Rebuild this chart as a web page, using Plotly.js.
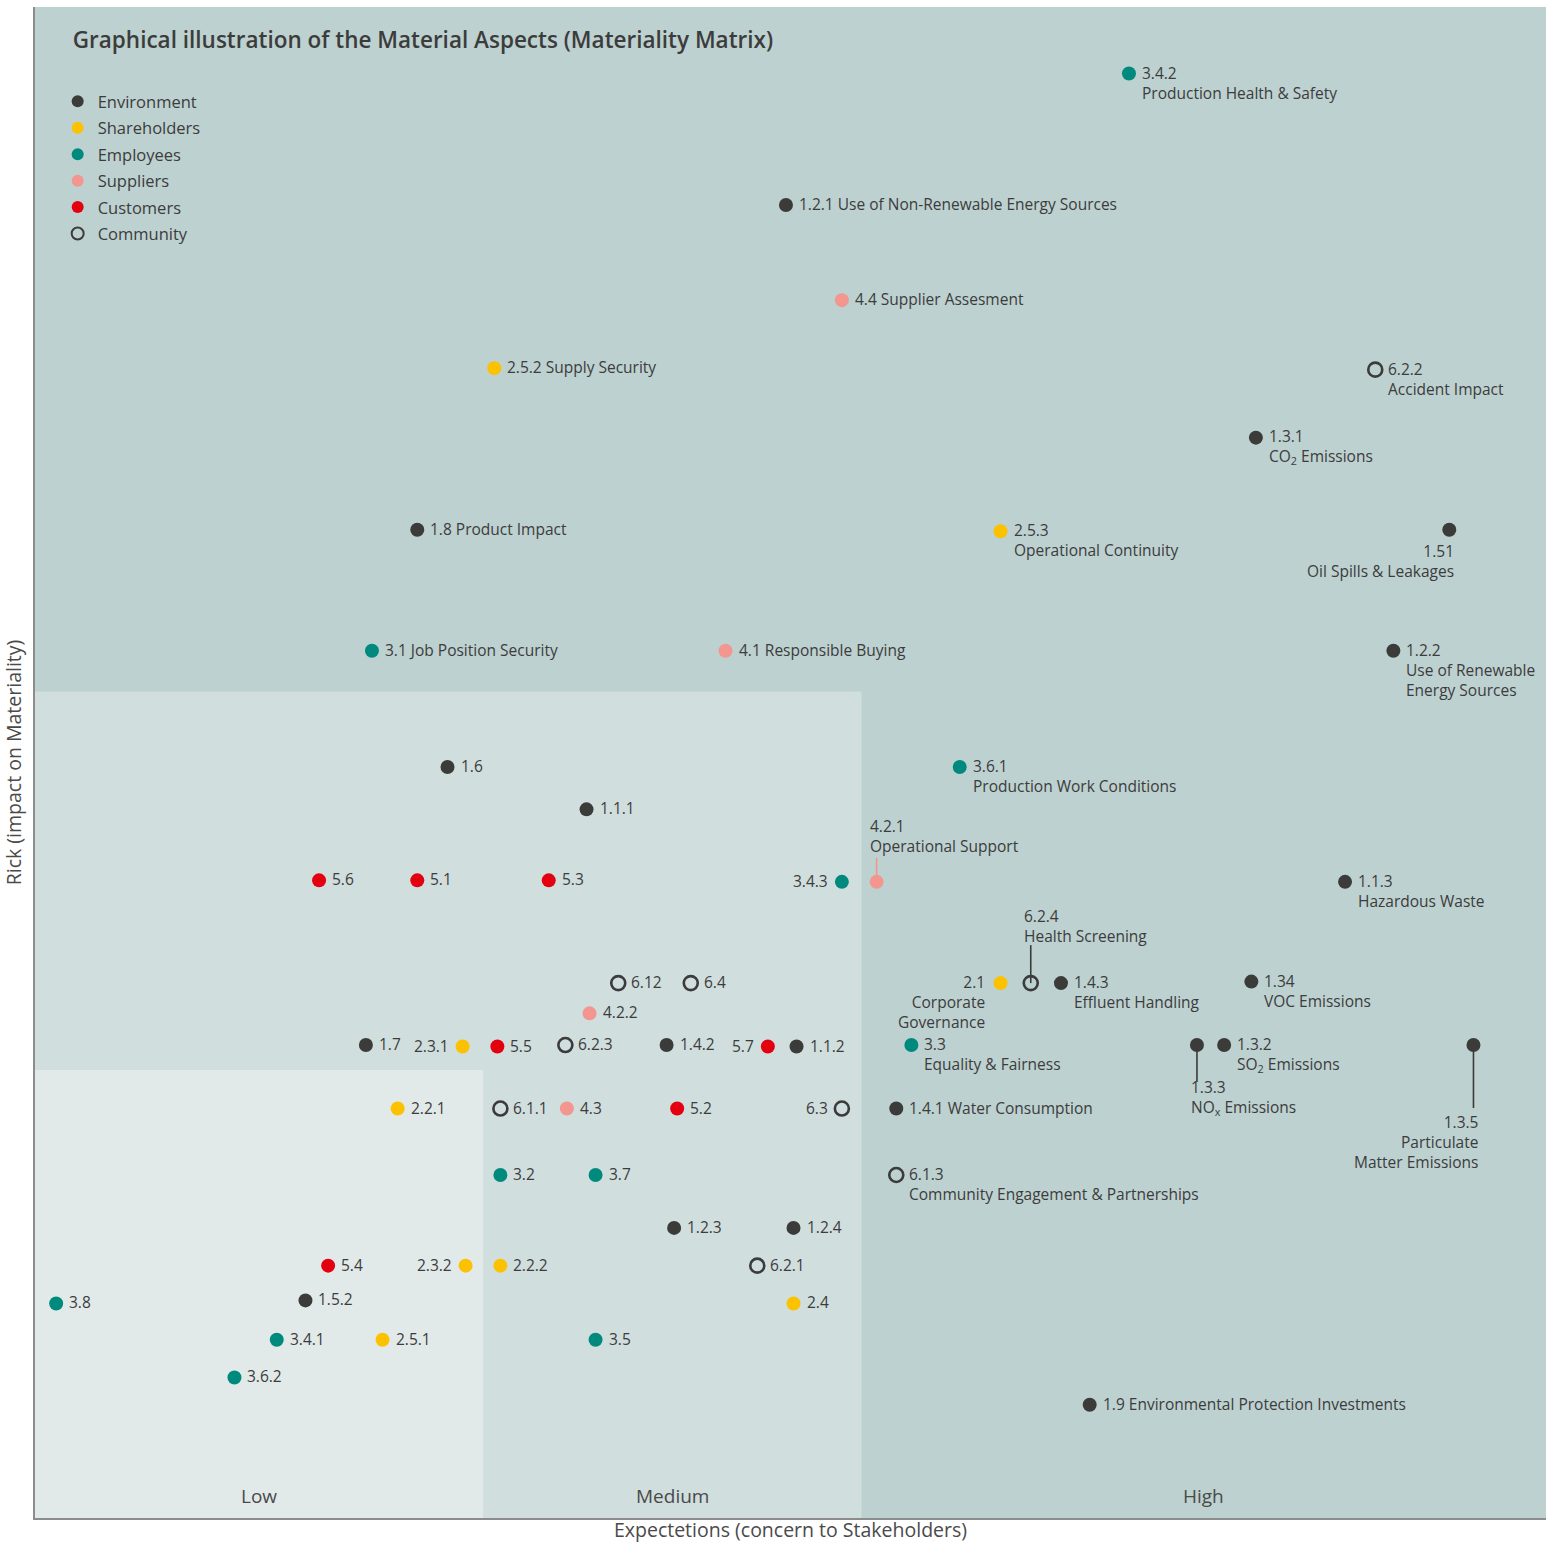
<!DOCTYPE html>
<html><head><meta charset="utf-8">
<script src="https://cdn.plot.ly/plotly-3.0.1.min.js"></script>
<style>html,body{margin:0;padding:0;background:#fff}#chart{width:1560px;height:1543px}</style>
</head><body><div id="chart"></div>
<script>
// ---------- DATA (scores on a 0-100 scale) ----------
const categories = ['Environment','Shareholders','Employees','Suppliers','Customers','Community'];

const envLabels = ['1.2.1 Use of Non-Renewable Energy Sources','1.3.1<br>CO<sub>2</sub> Emissions','1.51<br>Oil Spills & Leakages','1.8 Product Impact','1.2.2<br>Use of Renewable<br>Energy Sources','1.6','1.1.1','1.1.3<br>Hazardous Waste','1.4.3<br>Effluent Handling','1.34<br>VOC Emissions','1.7','1.4.2','1.1.2','1.3.3<br>NO<sub>x</sub> Emissions','1.3.2<br>SO<sub>2</sub> Emissions','1.3.5<br>Particulate<br>Matter Emissions','1.4.1 Water Consumption','1.2.3','1.2.4','1.5.2','1.9 Environmental Protection Investments'];
const envX = [49.7, 80.8, 93.6, 25.3, 89.9, 27.3, 36.5, 86.7, 67.9, 80.5, 21.9, 41.8, 50.4, 76.9, 78.7, 95.2, 57.0, 42.3, 50.2, 17.9, 69.8];
const envY = [86.9, 71.5, 65.4, 65.4, 57.4, 49.7, 46.9, 42.1, 35.4, 35.5, 31.3, 31.3, 31.2, 31.3, 31.3, 31.3, 27.1, 19.2, 19.2, 14.4, 7.5];

const shLabels = ['2.5.2 Supply Security','2.5.3<br>Operational Continuity','2.1<br>Corporate<br>Governance','2.3.1','2.2.1','2.3.2','2.2.2','2.4','2.5.1'];
const shX = [30.4, 63.9, 63.9, 28.3, 24.0, 28.5, 30.8, 50.2, 23.0];
const shY = [76.1, 65.3, 35.4, 31.2, 27.1, 16.7, 16.7, 14.2, 11.8];

const empLabels = ['3.4.2<br>Production Health & Safety','3.1 Job Position Security','3.6.1<br>Production Work Conditions','3.4.3','3.3<br>Equality & Fairness','3.2','3.7','3.8','3.4.1','3.5','3.6.2'];
const empX = [72.4, 22.3, 61.2, 53.4, 58.0, 30.8, 37.1, 1.4, 16.0, 37.1, 13.2];
const empY = [95.6, 57.4, 49.7, 42.1, 31.3, 22.7, 22.7, 14.2, 11.8, 11.8, 9.3];

const supLabels = ['4.4 Supplier Assesment','4.1 Responsible Buying','4.2.1<br>Operational Support','4.2.2','4.3'];
const supX = [53.4, 45.7, 55.7, 36.7, 35.2];
const supY = [80.6, 57.4, 42.1, 33.4, 27.1];

const cusLabels = ['5.6','5.1','5.3','5.5','5.7','5.2','5.4'];
const cusX = [18.8, 25.3, 34.0, 30.6, 48.5, 42.5, 19.4];
const cusY = [42.2, 42.2, 42.2, 31.2, 31.2, 27.1, 16.7];

const comLabels = ['6.2.2<br>Accident Impact','6.2.4<br>Health Screening','6.12','6.4','6.2.3','6.1.1','6.3','6.1.3<br>Community Engagement & Partnerships','6.2.1'];
const comX = [88.7, 65.9, 38.6, 43.4, 35.1, 30.8, 53.4, 57.0, 47.8];
const comY = [76.0, 35.4, 35.4, 35.4, 31.3, 27.1, 27.1, 22.7, 16.7];

const bandNames = ['Low','Medium','High'];
const bandEdges = [0, 29.65, 54.7, 100];

// ---------- STYLE ----------
const colors = {Environment:'#3b3b3a', Shareholders:'#fcc100', Employees:'#008a7e', Suppliers:'#f2968f', Customers:'#e3000f', Community:'#3b3b3a'};
const bandFill = ['#e1eae9','#d0dede','#bdd1d0'];
const textColor = '#3c3c3c';
const FONT = '"Open Sans", "Noto Sans", sans-serif';
const LABEL_SIZE = 15.5;
const LH = LABEL_SIZE * 1.3;

// label placement (pixel offsets relative to the marker); default: text to the right
// dy = offset of first line centre; dyLast = offset of last line centre (labels above the point)
const LEFT = {align:'right', dx:-12, dy:-1};
const placement = {
  '2.3.1':LEFT, '2.3.2':LEFT, '3.4.3':LEFT, '5.7':LEFT, '6.3':LEFT,
  '2.1':{align:'right', dx:-14, dy:-1},
  '1.51':{align:'right', dx:7, dy:21},
  '1.3.5':{align:'right', dx:7, dy:77, stem:63},
  '1.3.3':{align:'left', dx:-8, dy:42, stem:37},
  '4.2.1':{align:'left', dx:-9, dyLast:-36, stem:-24},
  '6.2.4':{align:'left', dx:-9, dyLast:-47, stem:-38}
};
const DEFAULT = {align:'left', dx:11, dy:-1};

const series = [
  {name:'Environment', labels:envLabels, x:envX, y:envY},
  {name:'Shareholders', labels:shLabels, x:shX, y:shY},
  {name:'Employees', labels:empLabels, x:empX, y:empY},
  {name:'Suppliers', labels:supLabels, x:supX, y:supY},
  {name:'Customers', labels:cusLabels, x:cusX, y:cusY},
  {name:'Community', labels:comLabels, x:comX, y:comY}
];

const traces = series.map((s, i) => {
  const open = s.name === 'Community';
  return {
    type:'scatter', mode:'markers', name:s.name, x:s.x, y:s.y,
    legendgroup:'g'+i, hoverinfo:'text', text:s.labels.map(l => l.replace(/<br>/g,' ')),
    marker: open
      ? {symbol:'circle-open', size:14, color:colors[s.name], line:{width:2.6, color:colors[s.name]}}
      : {symbol:'circle', size:14, color:colors[s.name], line:{width:0}}
  };
});

const annotations = [];
const shapes = [];

// background bands (L-shaped regions)
for (let b = bandNames.length - 2; b >= 0; b--) {
  shapes.push({type:'rect', xref:'x', yref:'y', x0:bandEdges[0], x1:bandEdges[b+1], y0:bandEdges[0], y1:bandEdges[b+1],
    fillcolor:bandFill[b], line:{width:0}, layer:'below'});
}
bandNames.forEach((n, b) => {
  annotations.push({xref:'x', yref:'y', x:(bandEdges[b] + bandEdges[b+1]) / 2, y:bandEdges[0], yshift:22,
    text:n, showarrow:false, xanchor:'center', yanchor:'middle', font:{family:FONT, size:19, color:'#4a4a4a'}});
});

series.forEach(s => {
  s.labels.forEach((lab, j) => {
    const id = lab.split(/[ <]/)[0];
    const p = placement[id] || DEFAULT;
    const n = lab.split('<br>').length;
    const centre = (p.dyLast !== undefined) ? p.dyLast - (n - 1) * LH / 2 : p.dy + (n - 1) * LH / 2;
    annotations.push({xref:'x', yref:'y', x:s.x[j], y:s.y[j], text:lab, showarrow:false,
      xanchor:p.align, align:p.align, yanchor:'middle', xshift:p.dx, yshift:-centre,
      font:{family:FONT, size:LABEL_SIZE, color:textColor}});
    if (p.stem) {
      shapes.push({type:'line', xref:'x', yref:'y', ysizemode:'pixel', yanchor:s.y[j],
        x0:s.x[j], x1:s.x[j], y0:0, y1:-p.stem,
        line:{color: s.name === 'Suppliers' ? colors.Suppliers : colors.Environment, width:1.6}, layer:'below'});
    }
  });
});

const layout = {
  width:1560, height:1543,
  margin:{l:35, r:14, t:7, b:25, pad:0},
  paper_bgcolor:'#ffffff', plot_bgcolor:bandFill[2],
  font:{family:FONT, color:textColor},
  title:{text:'Graphical illustration of the Material Aspects (Materiality Matrix)',
    xref:'paper', x:0.025, xanchor:'left', yref:'container', y:1 - 40/1543, yanchor:'middle',
    font:{family:FONT, size:22.5, weight:600, color:'#3c3c3c'}},
  xaxis:{range:[0,100], showgrid:false, zeroline:false, showticklabels:false, ticks:'',
    showline:true, linecolor:'#8c8c8c', linewidth:2, fixedrange:true, automargin:false,
    title:{text:'Expectetions (concern to Stakeholders)', standoff:10, font:{family:FONT, size:19.5, color:'#4a4a4a'}}},
  yaxis:{range:[0,100], showgrid:false, zeroline:false, showticklabels:false, ticks:'',
    showline:true, linecolor:'#8c8c8c', linewidth:2, fixedrange:true, automargin:false,
    title:{text:'Rick (impact on Materiality)', standoff:6, font:{family:FONT, size:19.5, color:'#4a4a4a'}}},
  showlegend:true,
  legend:{x:0.015, xanchor:'left', y:0.949, yanchor:'top', bgcolor:'rgba(0,0,0,0)', borderwidth:0,
    font:{family:FONT, size:16.5, color:textColor}, tracegroupgap:2, traceorder:'grouped', itemsizing:'constant'},
  shapes:shapes, annotations:annotations, hovermode:'closest'
};

Plotly.newPlot('chart', traces, layout, {displayModeBar:false});
</script>
</body></html>
